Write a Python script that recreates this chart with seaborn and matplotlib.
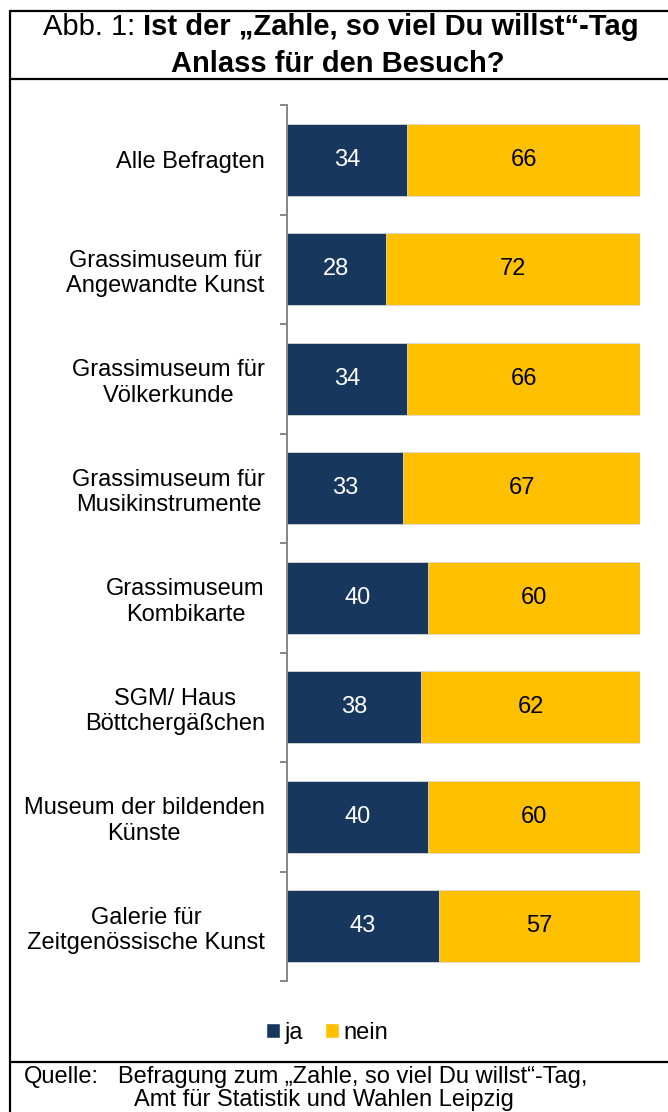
import matplotlib
matplotlib.use("Agg")
import matplotlib.pyplot as plt
import seaborn as sns
import numpy as np
import pandas as pd
from matplotlib.lines import Line2D
from matplotlib.patches import Rectangle
from matplotlib.ticker import FixedLocator

categories = [
    "Alle Befragten",
    "Grassimuseum für\nAngewandte Kunst",
    "Grassimuseum für\nVölkerkunde",
    "Grassimuseum für\nMusikinstrumente",
    "Grassimuseum\nKombikarte",
    "SGM/ Haus\nBöttchergäßchen",
    "Museum der bildenden\nKünste",
    "Galerie für\nZeitgenössische Kunst",
]
ja = [34, 28, 34, 33, 40, 38, 40, 43]
nein = [66, 72, 66, 67, 60, 62, 60, 57]
series_names = ["ja", "nein"]

title_regular = "Abb. 1: "
title_bold_1 = "Ist der „Zahle, so viel Du willst“-Tag"
title_bold_2 = "Anlass für den Besuch?"
source_label = "Quelle:"
source_line1 = "Befragung zum „Zahle, so viel Du willst“-Tag,"
source_line2 = "Amt für Statistik und Wahlen Leipzig"

NAVY = "#17375E"
YELLOW = "#FFC000"
GRAY = "#868686"

sns.set_theme(style="white")
plt.rcParams["font.family"] = ["Liberation Sans", "DejaVu Sans"]
plt.rcParams["text.color"] = "black"
plt.rcParams["ytick.labelcolor"] = "black"
plt.rcParams["legend.labelcolor"] = "black"

W, H = 668, 1112
fig = plt.figure(figsize=(W / 100, H / 100), dpi=100)

def fx(px):
    return px / W

def fy(py):
    return 1 - py / H

ax_left, ax_right, ax_top, ax_bottom = 287, 640, 105, 981
ax = fig.add_axes([fx(ax_left), fy(ax_bottom), fx(ax_right - ax_left), (ax_bottom - ax_top) / H])

df = pd.DataFrame({"cat": categories, "ja": ja, "nein": nein})
df["total"] = df["ja"] + df["nein"]

sns.barplot(data=df, x="total", y="cat", color=YELLOW, saturation=1, width=0.66,
            edgecolor="#D9D9D9", linewidth=0.6, ax=ax)
sns.barplot(data=df, x="ja", y="cat", color=NAVY, saturation=1, width=0.66,
            edgecolor="#D9D9D9", linewidth=0.6, ax=ax)

for i, (a, b) in enumerate(zip(ja, nein)):
    ax.text(a / 2, i, str(a), ha="center", va="center", color="white", fontsize=17)
    ax.text(a + b / 2, i, str(b), ha="center", va="center", color="black", fontsize=17)

ax.set_xlim(0, 100)
ax.set_ylim(len(categories) - 0.5, -0.5)
ax.set_xlabel("")
ax.set_ylabel("")
ax.xaxis.set_visible(False)
for s in ["top", "right", "bottom"]:
    ax.spines[s].set_visible(False)
ax.spines["left"].set_color(GRAY)
ax.spines["left"].set_linewidth(1.4)
ax.yaxis.set_minor_locator(FixedLocator(np.arange(-0.5, len(categories) + 0.5, 1.0)))
ax.tick_params(axis="y", which="minor", left=True, length=5, width=1.4, color=GRAY)
ax.tick_params(axis="y", which="major", left=False, length=0, pad=16, labelsize=17, labelcolor="black")
for lab in ax.get_yticklabels():
    lab.set_multialignment("center")
    lab.set_linespacing(1.2)
    lab.set_color("black")

# Frame lines
lw = 1.6
fig.add_artist(Line2D([fx(10), 1.0], [fy(11), fy(11)], color="black", lw=lw))
fig.add_artist(Line2D([fx(10), fx(10)], [fy(11), 0.0], color="black", lw=lw))
fig.add_artist(Line2D([fx(10), 1.0], [fy(79), fy(79)], color="black", lw=lw))
fig.add_artist(Line2D([fx(10), 1.0], [fy(1062), fy(1062)], color="black", lw=lw))

# Title
tfs = 21
fig.canvas.draw()
r = fig.canvas.get_renderer()
t1 = fig.text(0, fy(35), title_regular, fontsize=tfs, ha="left", va="baseline", color="black")
t2 = fig.text(0, fy(35), title_bold_1, fontsize=tfs, fontweight="bold", ha="left", va="baseline", color="black")
w1 = t1.get_window_extent(r).width
w2 = t2.get_window_extent(r).width
cx = 341
start = cx - (w1 + w2) / 2
t1.set_x(fx(start))
t2.set_x(fx(start + w1))
fig.text(fx(338), fy(72), title_bold_2, fontsize=tfs, fontweight="bold", ha="center", va="baseline", color="black")

# Legend
handles = [Rectangle((0, 0), 1, 1, facecolor=NAVY), Rectangle((0, 0), 1, 1, facecolor=YELLOW)]
fig.legend(handles, series_names, loc="center", bbox_to_anchor=(fx(327), fy(1033)), ncol=2,
           frameon=False, fontsize=17, handlelength=0.6, handleheight=0.6,
           handletextpad=0.2, columnspacing=0.9, borderaxespad=0, labelcolor="black")

# Source
sfs = 17
fig.text(fx(24), fy(1083), source_label, fontsize=sfs, ha="left", va="baseline", color="black")
fig.text(fx(118), fy(1083), source_line1, fontsize=sfs, ha="left", va="baseline", color="black")
fig.text(fx(134), fy(1106), source_line2, fontsize=sfs, ha="left", va="baseline", color="black")

fig.savefig("out.png", dpi=100)
